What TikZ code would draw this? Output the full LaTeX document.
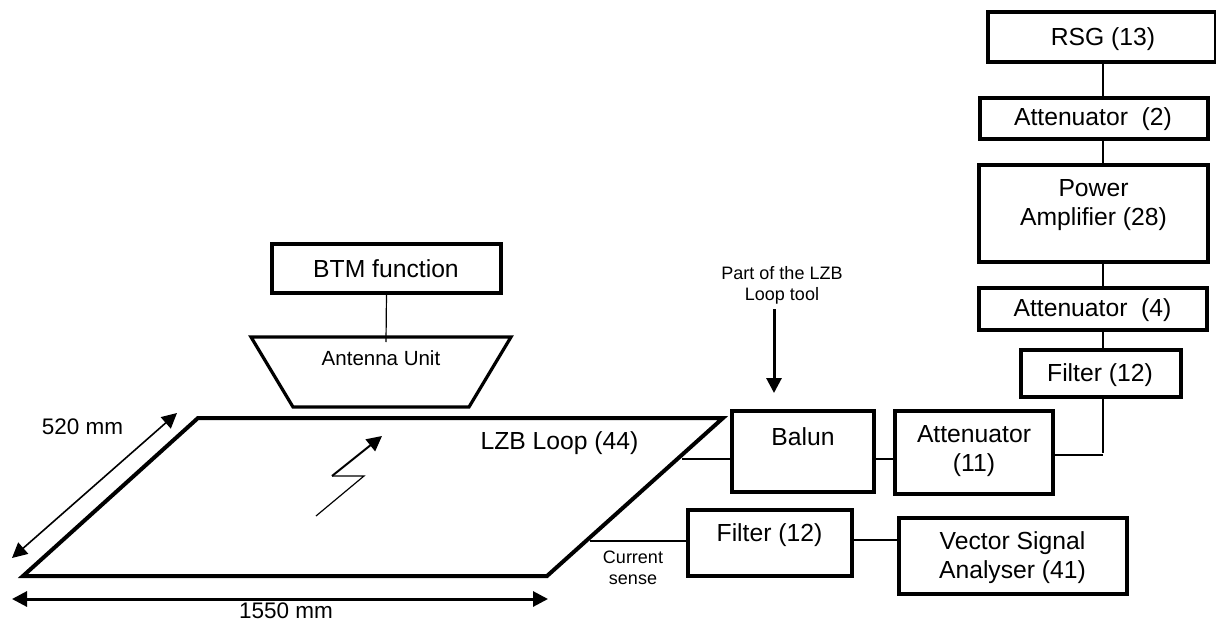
\documentclass[tikz,border=0pt]{standalone}
\usepackage{fontspec}
\setmainfont{Liberation Sans}
\usetikzlibrary{arrows.meta}
\newcommand{\pbox}[5]{\node[boxn,minimum width={(#4-#2)*1pt},minimum height={(#5-#3)*1pt}] (#1) at ({(#2+#4)/2},{(#3+#5)/2}) {};}
\tikzset{
  boxn/.style={draw=black,line width=3.4pt,inner sep=0pt,outer sep=0pt,fill=white},
  wire/.style={draw=black,line width=1.2pt},
  heavy/.style={draw=black,line width=4pt,line join=miter},
  txt/.style={inner sep=0pt,outer sep=0pt,align=center,yshift=-1.7pt,font=\fontsize{24.7}{29}\selectfont},
  small/.style={inner sep=0pt,outer sep=0pt,align=center,yshift=-1pt,font=\fontsize{18}{21}\selectfont},
  dim/.style={inner sep=0pt,outer sep=0pt,font=\fontsize{22.5}{26}\selectfont},
  ant/.style={inner sep=0pt,outer sep=0pt,font=\fontsize{20.5}{24}\selectfont},
  tip/.tip={Triangle[length=15pt,width=15pt]}
}
\begin{document}
\begin{tikzpicture}[x=1pt,y=-1pt]
\useasboundingbox (0,0) rectangle (1216,621);
% corners and free ends
\coordinate (ll) at (23,576);
\coordinate (lt) at (198,418);
\coordinate (rt) at (723,418);
\coordinate (rb) at (547,576);
\coordinate (tapa) at (682,459);
\coordinate (tapb) at (590,541);
\coordinate (vx) at (1103,0);
\coordinate (ta) at (251,337);
\coordinate (tb) at (511,337);
\coordinate (tc) at (469,407);
\coordinate (td) at (293,407);
\coordinate (antcon) at (386,342);
\coordinate (elbow) at (1103,455);
\coordinate (filtend) at (1103,452.5);
% boxes
\pbox{rsg}{988}{12}{1216}{62}
\pbox{attb}{980}{98}{1208}{139}
\pbox{pa}{979}{165}{1208}{262}
\pbox{attd}{979}{288}{1207}{330}
\pbox{filu}{1021}{350}{1181}{397}
\pbox{balun}{732}{411}{874}{492}
\pbox{attk}{895}{411}{1053}{494}
\pbox{fill}{688}{510}{852}{576}
\pbox{vsa}{899}{518}{1127}{594}
\pbox{btm}{272}{244}{501}{293}
% shapes
\draw[draw=black,line width=3.2pt,line join=miter] (ta) -- (tb) -- (tc) -- (td) -- cycle;
\draw[heavy] (ll) -- (lt) -- (rt) -- (rb) -- cycle;
% connectors
\draw[wire] (vx |- rsg.south) -- (vx |- attb.north);
\draw[wire] (vx |- attb.south) -- (vx |- pa.north);
\draw[wire] (vx |- pa.south) -- (vx |- attd.north);
\draw[wire] (vx |- attd.south) -- (vx |- filu.north);
\draw[wire] (vx |- filu.south) -- (filtend);
\draw[wire] (attk.east |- elbow) -- (elbow);
\draw[wire] (tapa) -- (tapa -| balun.west);
\draw[wire] (balun.east |- tapa) -- (attk.west |- tapa);
\draw[wire] (tapb) -- (tapb -| fill.west);
\draw[wire] (fill.east |- 0,540) -- (vsa.west |- 0,540);
\draw[wire] (btm.south) -- (antcon);
% arrows
\coordinate (pa1) at (774,309);
\coordinate (pa2) at (774,393);
\draw[-{tip},line width=3pt,black] (pa1) -- (pa2);
\coordinate (wa) at (12,558);
\coordinate (wb) at (177,413);
\draw[{tip}-{tip},line width=1.6pt,black] (wa) -- (wb);
\coordinate (la) at (12,599);
\coordinate (lb) at (548,599);
\draw[{tip}-{tip},line width=3pt,black] (la) -- (lb);
% lightning
\coordinate (za) at (316,516);
\coordinate (zb) at (364,476);
\coordinate (zc) at (332,476);
\coordinate (zd) at (382,436);
\draw[wire,line join=miter] (za) -- (zb) -- (zc);
\draw[-{tip},line width=2pt,black] (zc) -- (zd);
% labels
\node[txt] (trsg) at (1103,37) {RSG (13)};
\node[txt] (tattb) at (1093,117) {Attenuator\ \ (2)};
\node[txt] (tpa) at (1093.5,203.5) {Power\\Amplifier (28)};
\node[txt] (tattd) at (1092.5,308) {Attenuator\ \ (4)};
\node[txt] (tfilu) at (1100,373) {Filter (12)};
\node[txt] (tbalun) at (803,434.5) {Balun};
\node[txt] (tattk) at (974,449) {Attenuator\\(11)};
\node[txt] (tfill) at (769.5,533) {Filter (12)};
\node[txt] (tvsa) at (1012.5,555.5) {Vector Signal\\Analyser (41)};
\node[txt] (tbtm) at (386,267) {BTM function};
\node[txt] (tloop) at (559.5,441) {LZB Loop (44)};
\node[ant] (tant) at (381,358) {Antenna Unit};
\node[small] (tpart) at (782,284) {Part of the LZB\\Loop tool};
\node[small] (tcur) at (633,567) {Current\\sense};
\node[dim] (twid) at (82.5,427) {520 mm};
\node[dim] (tlen) at (286,611) {1550 mm};
\end{tikzpicture}
\end{document}
